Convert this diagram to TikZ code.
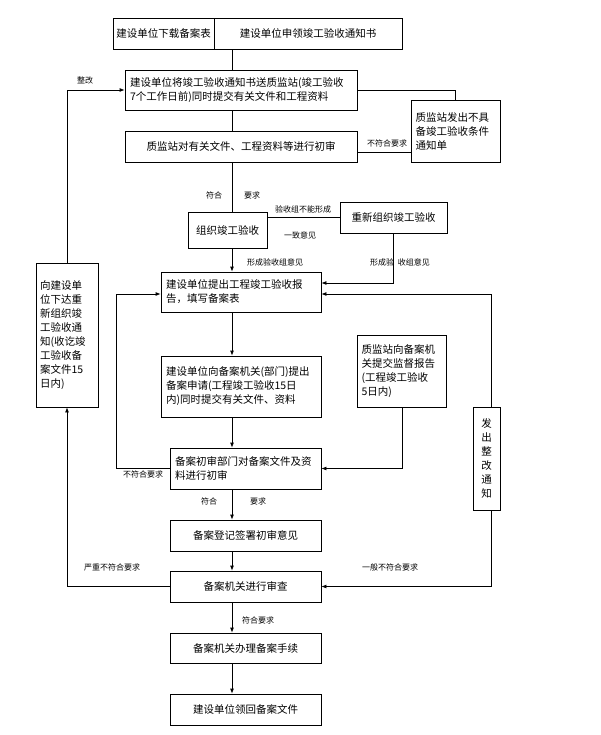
\documentclass[tikz,border=0pt]{standalone}
\usepackage{fontspec}
\setmainfont{Noto Sans CJK SC}
\usetikzlibrary{arrows.meta}
\begin{document}
\begin{tikzpicture}[x=1pt,y=-1pt,
  box/.style={draw,line width=0.8pt,inner sep=0pt,font=\fontsize{10.5}{14}\selectfont},
  tb/.style={box,align=left,text width=#1},
  lab/.style={font=\fontsize{8}{10}\selectfont,inner sep=1pt},
  ln/.style={line width=0.8pt},
  ar/.style={line width=0.8pt,-{Latex[length=5pt,width=4pt]}}]
\useasboundingbox (0,0) rectangle (600,735);
\coordinate (axis) at (232,0);
\coordinate (lx) at (62,0);
\coordinate (lx2) at (116,0);
\node[box,minimum width=101pt,minimum height=31pt] (T1) at (163.5,33.5) {建设单位下载备案表};
\node[box,minimum width=188pt,minimum height=31pt] (T2) at (308,33.5) {建设单位申领竣工验收通知书};
\node[box,minimum width=232pt,minimum height=40pt,tb=222pt] (B1) at (241,90) {建设单位将竣工验收通知书送质监站(竣工验收\\7个工作日前)同时提交有关文件和工程资料};
\node[box,minimum width=89pt,minimum height=62pt,tb=80pt] (R1) at (455.5,131) {质监站发出不具\\备竣工验收条件\\通知单};
\node[box,minimum width=232pt,minimum height=31pt] (B2) at (241,146.5) {质监站对有关文件、工程资料等进行初审};
\node[box,minimum width=79pt,minimum height=36pt] (B3) at (227.5,230) {组织竣工验收};
\node[box,minimum width=107pt,minimum height=31pt] (R2) at (393.5,217.5) {重新组织竣工验收};
\node[box,minimum width=160pt,minimum height=40pt,tb=150pt] (B4) at (241,292) {建设单位提出工程竣工验收报\\告，填写备案表};
\node[box,minimum width=160pt,minimum height=61pt,tb=150pt] (B5) at (241,386.5) {建设单位向备案机关(部门)提出\\备案申请(工程竣工验收15日\\内)同时提交有关文件、资料};
\node[box,minimum width=151pt,minimum height=41pt,tb=141pt] (B6) at (245.5,468.5) {备案初审部门对备案文件及资\\料进行初审};
\node[box,minimum width=89pt,minimum height=72pt,tb=80pt] (R3) at (401.5,371) {质监站向备案机\\关提交监督报告\\(工程竣工验收\\5日内)};
\node[box,minimum width=151pt,minimum height=31pt] (B7) at (245.5,535.5) {备案登记签署初审意见};
\node[box,minimum width=151pt,minimum height=31pt] (B8) at (245.5,586.5) {备案机关进行审查};
\node[box,minimum width=151pt,minimum height=30pt] (B9) at (245.5,648) {备案机关办理备案手续};
\node[box,minimum width=151pt,minimum height=31pt] (B10) at (245.5,709.5) {建设单位领回备案文件};
\node[box,minimum width=62pt,minimum height=144pt,tb=54pt] (L) at (67,335) {向建设单\\位下达重\\新组织竣\\工验收通\\知(收讫竣\\工验收备\\案文件15\\日内)};
\node[box,minimum width=27pt,minimum height=103pt,align=center] (R4) at (486.5,458.5) {发\\出\\整\\改\\通\\知};
% connectors
\draw[ln] (T2.south -| axis) -- (B1.north -| axis);
\draw[ln] (B1.south -| axis) -- (B2.north -| axis);
\draw[ln] (B1.east) -| (R1.north);
\draw[ln] (B2.east |- 0,152) coordinate (c1) -- (R1.west |- c1);
\node[lab] (l1) at (387,143) {不符合要求};
\draw[ln] (B2.south -| axis) -- (B3.north -| axis);
\node[lab] (l2) at (214,195) {符合};
\node[lab] (l3) at (252,195) {要求};
\draw[ln] (B3.east |- R2.west) -- (R2.west);
\node[lab] (l4) at (303,209) {验收组不能形成};
\node[lab] (l5) at (300,235) {一致意见};
\draw[ar] (B3.south -| axis) -- (B4.north -| axis);
\node[lab] (l6) at (275,262) {形成验收组意见};
\coordinate (r2x) at (393,283);
\draw[ar] (R2.south -| r2x) |- (B4.east |- r2x);
\node[lab] (l7) at (400,262) {形成验\ \ 收组意见};
\draw[ar] (B4.south -| axis) -- (B5.north -| axis);
\draw[ar] (B5.south -| axis) -- (B6.north -| axis);
\coordinate (r3x) at (402,469);
\draw[ar] (R3.south -| r3x) |- (B6.east);
\coordinate (b4l) at (0,294);
\draw[ar] (B6.west) -| (lx2 |- b4l) -- (B4.west |- b4l);
\node[lab] (l8) at (143,474) {不符合要求};
\draw[ar] (B6.south -| axis) -- (B7.north -| axis);
\node[lab] (l9) at (209,501) {符合};
\node[lab] (l10) at (258,501) {要求};
\draw[ar] (B7.south -| axis) -- (B8.north -| axis);
\draw[ar] (B8.west) -| (L.south);
\node[lab] (l11) at (112,567) {严重不符合要求};
\draw[ar] (L.north) |- (B1.west);
\node[lab] (l12) at (85,80) {整改};
\coordinate (r4x) at (491,0);
\draw[ar] (R4.south -| r4x) |- (B8.east);
\node[lab] (l13) at (390,567) {一般不符合要求};
\draw[ar] (R4.north -| r4x) |- (B4.east |- b4l);
\draw[ar] (B8.south -| axis) -- (B9.north -| axis);
\node[lab] (l14) at (258,620) {符合要求};
\draw[ar] (B9.south -| axis) -- (B10.north -| axis);
\end{tikzpicture}
\end{document}
